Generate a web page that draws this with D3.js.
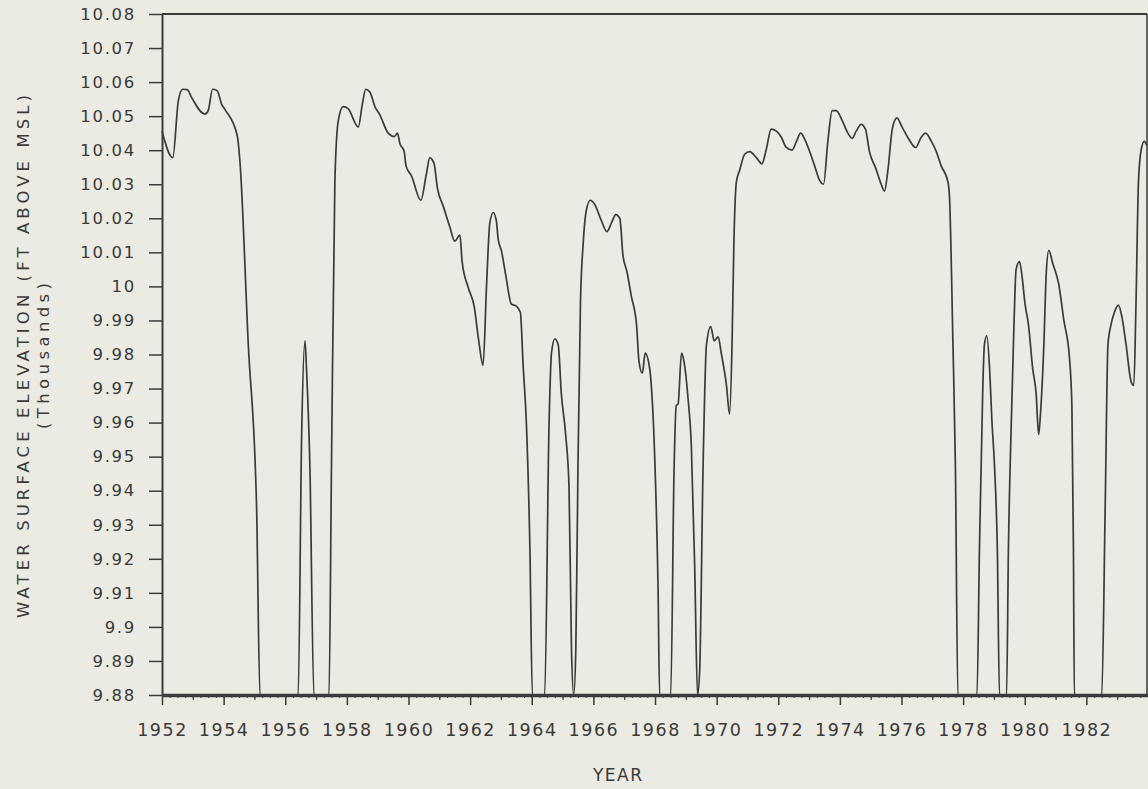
<!DOCTYPE html>
<html>
<head>
<meta charset="utf-8">
<script src="https://cdn.jsdelivr.net/npm/d3@7"></script>
<style>
  body { margin: 0; background: #ecebe3; }
  svg { display: block; }
  text { font-family: "DejaVu Sans", sans-serif; fill: #3a3a3a; }
</style>
</head>
<body>
<div id="chart"></div>
<script>
// water surface elevation, thousands of ft
const years = [
  1952.0, 1952.35, 1952.53, 1952.67, 1952.82, 1952.96, 1953.39, 1953.5, 1953.64, 1953.79,
  1953.94, 1954.04, 1954.44, 1954.53, 1954.8, 1955.07, 1955.18, 1956.42, 1956.53, 1956.64,
  1956.69, 1956.8, 1956.93, 1957.42, 1957.5, 1957.61, 1957.72, 1957.88, 1958.04, 1958.37,
  1958.5, 1958.61, 1958.75, 1958.91, 1959.07, 1959.34, 1959.54, 1959.64, 1959.72, 1959.86,
  1959.92, 1960.1, 1960.4, 1960.58, 1960.69, 1960.83, 1960.94, 1961.13, 1961.34, 1961.5,
  1961.67, 1961.74, 1961.94, 1962.13, 1962.28, 1962.42, 1962.53, 1962.64, 1962.75, 1962.85,
  1962.91, 1963.02, 1963.16, 1963.34, 1963.5, 1963.63, 1963.72, 1963.83, 1963.94, 1964.02,
  1964.42, 1964.56, 1964.64, 1964.75, 1964.86, 1964.96, 1965.1, 1965.21, 1965.29, 1965.36,
  1965.43, 1965.5, 1965.58, 1965.67, 1965.77, 1965.9, 1966.04, 1966.26, 1966.44, 1966.59,
  1966.73, 1966.86, 1966.96, 1967.09, 1967.23, 1967.4, 1967.48, 1967.59, 1967.68, 1967.83,
  1967.88, 1967.99, 1968.1, 1968.15, 1968.51, 1968.62, 1968.69, 1968.75, 1968.86, 1968.94,
  1969.07, 1969.18, 1969.29, 1969.38, 1969.45, 1969.56, 1969.67, 1969.81, 1969.92, 1970.05,
  1970.15, 1970.32, 1970.42, 1970.5, 1970.56, 1970.64, 1970.75, 1970.91, 1971.07, 1971.29,
  1971.47, 1971.61, 1971.77, 1971.94, 1972.1, 1972.26, 1972.45, 1972.59, 1972.73, 1972.86,
  1973.02, 1973.18, 1973.34, 1973.47, 1973.61, 1973.75, 1973.88, 1974.08, 1974.26, 1974.4,
  1974.53, 1974.69, 1974.83, 1974.96, 1975.16, 1975.34, 1975.45, 1975.56, 1975.7, 1975.85,
  1976.02, 1976.24, 1976.46, 1976.64, 1976.78, 1976.97, 1977.13, 1977.29, 1977.51, 1977.56,
  1977.67, 1977.75, 1977.83, 1978.45, 1978.53, 1978.64, 1978.69, 1978.77, 1978.86, 1978.93,
  1979.02, 1979.11, 1979.18, 1979.41, 1979.47, 1979.56, 1979.65, 1979.72, 1979.83, 1979.91,
  1980.01, 1980.12, 1980.26, 1980.37, 1980.45, 1980.51, 1980.62, 1980.7, 1980.78, 1980.91,
  1981.1, 1981.27, 1981.45, 1981.53, 1981.58, 1981.61, 1982.5, 1982.61, 1982.7, 1982.8,
  1982.91, 1983.04, 1983.15, 1983.29, 1983.45, 1983.54, 1983.61, 1983.69, 1983.78, 1983.88,
  1983.96
];
const elevation = [
  10.0456, 10.0378, 10.0545, 10.0579, 10.0578, 10.0555, 10.0506, 10.0516, 10.0579, 10.0575,
  10.0534, 10.052, 10.0444, 10.0366, 9.983, 9.935, 9.88, 9.88, 9.9553, 9.984,
  9.9757, 9.947, 9.88, 9.88, 9.947, 10.0306, 10.0486, 10.0528, 10.0522, 10.0468,
  10.0534, 10.0579, 10.057, 10.0528, 10.0504, 10.045, 10.044, 10.045, 10.042, 10.0396,
  10.0354, 10.0324, 10.0253, 10.033, 10.0378, 10.036, 10.0288, 10.0235, 10.0175, 10.0133,
  10.0151, 10.0073, 9.9996, 9.9942, 9.984, 9.9768, 9.9996, 10.0187, 10.0217, 10.0193,
  10.0139, 10.0103, 10.0031, 9.9948, 9.9942, 9.9924, 9.9768, 9.9589, 9.923, 9.88,
  9.88, 9.9589, 9.9804, 9.9846, 9.9828, 9.9685, 9.9565, 9.941, 9.8932, 9.88,
  9.8932, 9.947, 9.9948, 10.0127, 10.0223, 10.0253, 10.0241, 10.0193, 10.0161, 10.0187,
  10.0211, 10.0199, 10.0091, 10.0043, 9.9972, 9.9888, 9.978, 9.9745, 9.9804, 9.9757,
  9.9709, 9.95, 9.911, 9.88, 9.88, 9.947, 9.965, 9.9655, 9.9804, 9.978,
  9.9673, 9.953, 9.917, 9.88, 9.8872, 9.947, 9.9828, 9.9882, 9.984, 9.9852,
  9.9804, 9.9709, 9.9625, 9.9828, 10.0127, 10.0306, 10.0342, 10.0388, 10.0396, 10.0378,
  10.036, 10.0402, 10.0462, 10.0456, 10.0438, 10.0408, 10.04, 10.0426, 10.045, 10.0432,
  10.0396, 10.0354, 10.0312, 10.03, 10.0426, 10.0516, 10.0516, 10.0486, 10.045, 10.0435,
  10.0456, 10.0476, 10.0462, 10.0396, 10.0348, 10.03, 10.028, 10.0342, 10.0462, 10.0495,
  10.0468, 10.0432, 10.0408, 10.0438, 10.045, 10.0426, 10.0396, 10.0354, 10.0306, 10.0258,
  9.9828, 9.947, 9.88, 9.88, 9.923, 9.9709, 9.9828, 9.9855, 9.9757, 9.9613,
  9.947, 9.923, 9.88, 9.88, 9.923, 9.9589, 9.9888, 10.005, 10.0073, 10.0031,
  9.9948, 9.9888, 9.9757, 9.9685, 9.9565, 9.9625, 9.9828, 10.0043, 10.0106, 10.0067,
  10.0008, 9.99, 9.9792, 9.9649, 9.923, 9.88, 9.88, 9.935, 9.9828, 9.9888,
  9.9924, 9.9945, 9.9912, 9.9828, 9.9721, 9.9709, 9.9948, 10.0306, 10.0402, 10.0426,
  10.0414
];
const yTicks = [9.88, 9.89, 9.9, 9.91, 9.92, 9.93, 9.94, 9.95, 9.96, 9.97, 9.98, 9.99,
  10, 10.01, 10.02, 10.03, 10.04, 10.05, 10.06, 10.07, 10.08];
const xTicks = [1952, 1954, 1956, 1958, 1960, 1962, 1964, 1966, 1968, 1970, 1972, 1974,
  1976, 1978, 1980, 1982];

const width = 1148, height = 789;
const ink = "#3a3a3a";

const svg = d3.select("#chart").append("svg")
  .attr("width", width)
  .attr("height", height);

const x = d3.scaleLinear().domain([1952, 1984]).range([162, 1148]);
const y = d3.scaleLinear().domain([9.88, 10.08]).range([695, 14]);

// frame top + right
svg.append("line")
  .attr("x1", x(1952)).attr("x2", 1147)
  .attr("y1", y(10.08)).attr("y2", y(10.08))
  .attr("stroke", ink).attr("stroke-width", 2);
svg.append("line")
  .attr("x1", 1147).attr("x2", 1147)
  .attr("y1", y(10.08)).attr("y2", y(9.88))
  .attr("stroke", ink).attr("stroke-width", 1.5);

// y axis
const yAxis = svg.append("g")
  .attr("transform", "translate(" + x(1952) + ",0)")
  .call(d3.axisLeft(y).tickValues(yTicks).tickSize(13).tickSizeOuter(0).tickPadding(13)
    .tickFormat(d => String(+d.toFixed(2))));
yAxis.select(".domain").attr("stroke", ink).attr("stroke-width", 2);
yAxis.selectAll(".tick line").attr("stroke", ink).attr("stroke-width", 1.5);
yAxis.selectAll(".tick text")
  .style("font-family", "DejaVu Sans")
  .style("font-size", "16.5px")
  .style("letter-spacing", "1.7px")
  .attr("fill", ink);

// minor x ticks
const quarters = d3.range(1952, 1984.01, 0.25);
const xMinor = svg.append("g")
  .attr("transform", "translate(0," + y(9.88) + ")")
  .call(d3.axisBottom(x).tickValues(quarters).tickSize(3).tickFormat(""));
xMinor.select(".domain").remove();
xMinor.selectAll(".tick line").attr("stroke", ink).attr("stroke-width", 1);

const years1 = d3.range(1953, 1984, 2);
const xMid = svg.append("g")
  .attr("transform", "translate(0," + y(9.88) + ")")
  .call(d3.axisBottom(x).tickValues(years1).tickSize(5).tickFormat(""));
xMid.select(".domain").remove();
xMid.selectAll(".tick line").attr("stroke", ink).attr("stroke-width", 1.2);

// x axis
const xAxis = svg.append("g")
  .attr("transform", "translate(0," + y(9.88) + ")")
  .call(d3.axisBottom(x).tickValues(xTicks).tickSize(10).tickSizeOuter(0).tickPadding(19)
    .tickFormat(d3.format("d")));
xAxis.select(".domain").attr("stroke", ink).attr("stroke-width", 3.5);
xAxis.selectAll(".tick line").attr("stroke", ink).attr("stroke-width", 1.5);
xAxis.selectAll(".tick text")
  .style("font-family", "DejaVu Sans")
  .style("font-size", "17.5px")
  .style("letter-spacing", "1.5px")
  .attr("fill", ink);

// the series
const line = d3.line()
  .x(d => x(d[0]))
  .y(d => y(d[1]))
  .curve(d3.curveMonotoneX);

svg.append("path")
  .datum(d3.zip(years, elevation))
  .attr("fill", "none")
  .attr("stroke", ink)
  .attr("stroke-width", 1.7)
  .attr("stroke-linejoin", "round")
  .attr("d", line);

// axis titles
svg.append("text")
  .attr("transform", "translate(29,618) rotate(-90)")
  .attr("textLength", 523)
  .attr("lengthAdjust", "spacing")
  .style("font-size", "16.5px")
  .text("WATER SURFACE ELEVATION (FT ABOVE MSL)");

svg.append("text")
  .attr("transform", "translate(49,429) rotate(-90)")
  .attr("textLength", 146)
  .attr("lengthAdjust", "spacing")
  .style("font-size", "16.5px")
  .text("(Thousands)");

svg.append("text")
  .attr("x", 593)
  .attr("y", 781)
  .attr("textLength", 49)
  .attr("lengthAdjust", "spacing")
  .style("font-size", "17px")
  .text("YEAR");
</script>
</body>
</html>
